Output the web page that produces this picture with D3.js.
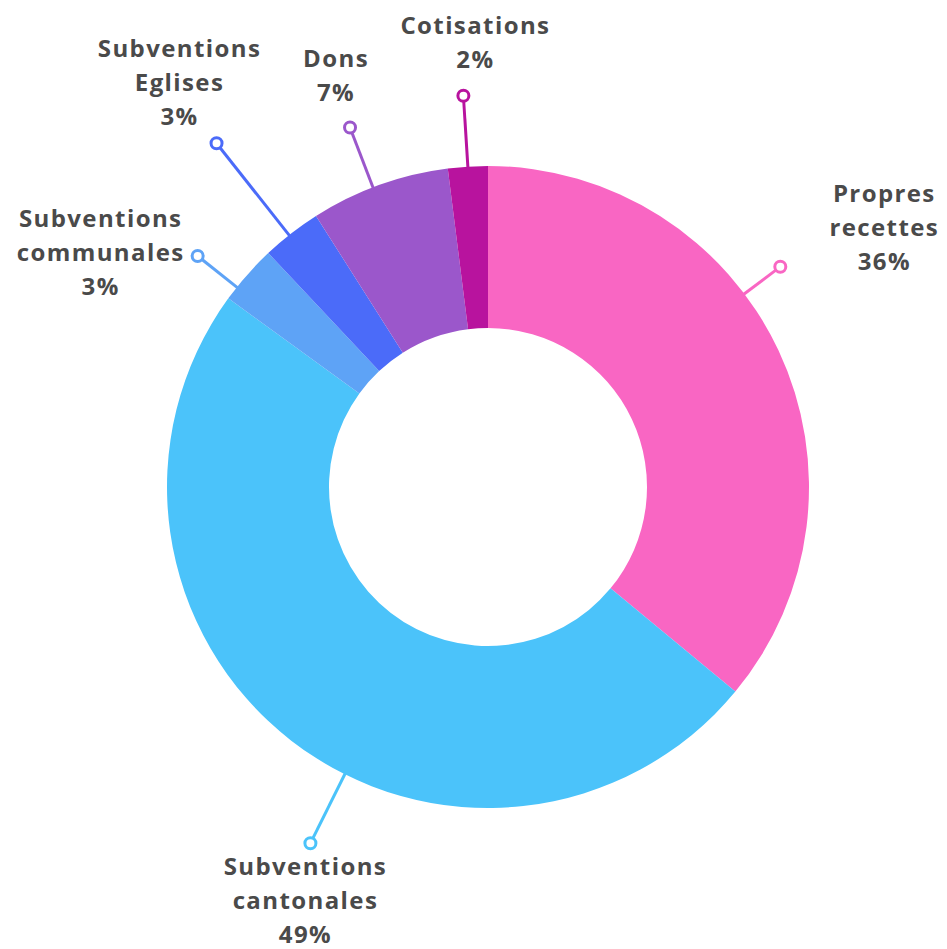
<!DOCTYPE html>
<html>
<head>
<meta charset="utf-8">
<script src="https://cdn.jsdelivr.net/npm/d3@7"></script>
<style>
  body { margin: 0; background: #fff; }
  .lbl { font-family: "Open Sans", sans-serif; font-weight: 700; font-size: 24px; fill: #4a4a4a; letter-spacing: 1.4px; }
</style>
</head>
<body>
<svg id="chart"></svg>
<script>
// data, clockwise from 12 o'clock
var names = ["Propres recettes", "Subventions cantonales", "Subventions communales", "Subventions Eglises", "Dons", "Cotisations"]
var values = [36, 49, 3, 3, 7, 2]
var colors = ["#f966c3", "#4bc3fa", "#5ea3f6", "#4b6bf9", "#9b57cb", "#b8139e"]
var labelLines = [
    ["Propres", "recettes", "36%"],
    ["Subventions", "cantonales", "49%"],
    ["Subventions", "communales", "3%"],
    ["Subventions", "Eglises", "3%"],
    ["Dons", "7%"],
    ["Cotisations", "2%"]
]

// leader layout: angle (deg), radius of the dot, first text line offset from dot
var leaders = [
    {a: 53, r: 366, dx: 104, dy: -73},
    {a: 206.5, r: 398, dx: -5, dy: 23},
    {a: 308.5, r: 371, dx: -97, dy: -37},
    {a: 321.7, r: 438, dx: -37, dy: -95},
    {a: 339, r: 385, dx: -14, dy: -69},
    {a: 356.4, r: 392, dx: 12, dy: -70}
]

var width = 947, height = 949
var cx = 488, cy = 487
var outerR = 321, innerR = 159
var lineH = 34

var svg = d3.select("#chart")
    .attr("width", width)
    .attr("height", height)

var g = svg.append("g")
    .attr("transform", `translate(${cx},${cy})`)

var pie = d3.pie().sort(null).value(function(d) { return d })
var arc = d3.arc().innerRadius(innerR).outerRadius(outerR)

var arcs = pie(values)

g.selectAll("path.slice")
    .data(arcs)
    .enter()
    .append("path")
    .attr("class", "slice")
    .attr("d", arc)
    .attr("fill", function(d, i) { return colors[i] })

function polar(angleDeg, r) {
    var t = angleDeg * Math.PI / 180
    return [r * Math.sin(t), -r * Math.cos(t)]
}

// leader lines + dots
var lead = g.selectAll("g.leader")
    .data(leaders)
    .enter()
    .append("g")
    .attr("class", "leader")

lead.append("line")
    .attr("x1", function(d) { return polar(d.a, outerR - 2)[0] })
    .attr("y1", function(d) { return polar(d.a, outerR - 2)[1] })
    .attr("x2", function(d) { return polar(d.a, d.r - 6)[0] })
    .attr("y2", function(d) { return polar(d.a, d.r - 6)[1] })
    .attr("stroke", function(d, i) { return colors[i] })
    .attr("stroke-width", 3)

lead.append("circle")
    .attr("cx", function(d) { return polar(d.a, d.r)[0] })
    .attr("cy", function(d) { return polar(d.a, d.r)[1] })
    .attr("r", 5.5)
    .attr("fill", "#fff")
    .attr("stroke", function(d, i) { return colors[i] })
    .attr("stroke-width", 3)

// labels
lead.each(function(d, i) {
    var p = polar(d.a, d.r)
    var text = d3.select(this).append("text")
        .attr("class", "lbl")
        .attr("text-anchor", "middle")
    labelLines[i].forEach(function(s, k) {
        text.append("tspan")
            .attr("x", p[0] + d.dx)
            .attr("y", p[1] + d.dy + k * lineH)
            .attr("dy", "0.35em")
            .text(s)
    })
})
</script>
</body>
</html>
